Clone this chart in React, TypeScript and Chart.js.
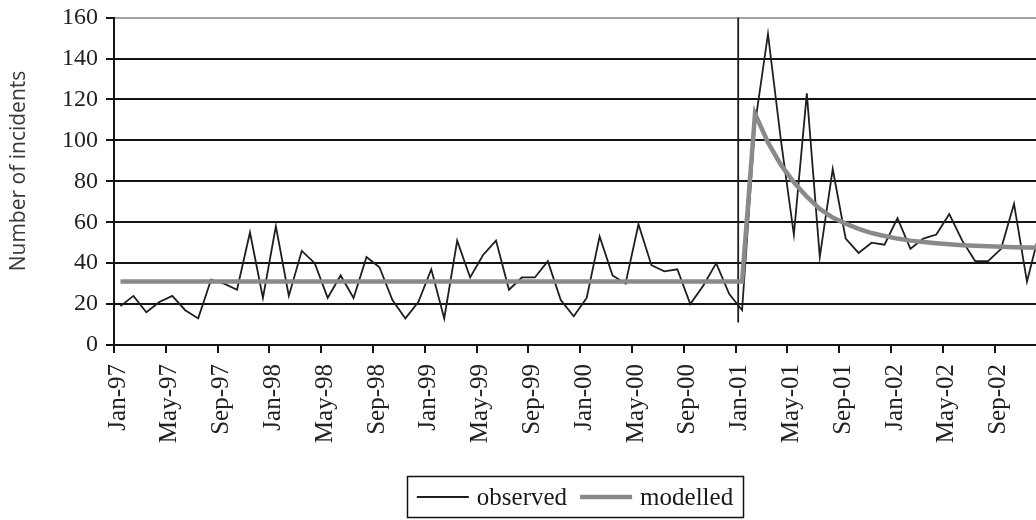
import { useEffect, useRef } from "react";
import { Chart, registerables } from "chart.js";

Chart.register(...registerables);

// Monthly incidents, Jan-97 (index 0) .. Dec-02 (index 71)
const observed = [
  19, 24, 16, 21, 24, 17, 13, 32, 30, 27, 55, 23,
  58, 24, 46, 40, 23, 34, 23, 43, 38, 22, 13, 21,
  37, 13, 51, 33, 44, 51, 27, 33, 33, 41, 22, 14,
  23, 53, 34, 30, 59, 39, 36, 37, 20, 29, 40, 25,
  17, 108, 152, 100, 54, 123, 43, 86, 52, 45, 50, 49,
  62, 47, 52, 54, 64, 51, 41, 41, 47, 69, 31, 56,
];

const modelled = [
  31, 31, 31, 31, 31, 31, 31, 31, 31, 31, 31, 31,
  31, 31, 31, 31, 31, 31, 31, 31, 31, 31, 31, 31,
  31, 31, 31, 31, 31, 31, 31, 31, 31, 31, 31, 31,
  31, 31, 31, 31, 31, 31, 31, 31, 31, 31, 31, 31,
  31, 113, 99, 88, 79.5, 72.5, 66.5, 62.3, 59.3, 56.8, 54.7, 53.3,
  52, 51, 50.3, 49.7, 49.2, 48.8, 48.5, 48.2, 48, 47.8, 47.6, 47.5,
];

// intervention marker (vertical line just before Jan-01)
const breakX = [47.7, 47.7];
const breakY = [11, 160];

const xTickLabels = [
  "Jan-97", "May-97", "Sep-97", "Jan-98", "May-98", "Sep-98",
  "Jan-99", "May-99", "Sep-99", "Jan-00", "May-00", "Sep-00",
  "Jan-01", "May-01", "Sep-01", "Jan-02", "May-02", "Sep-02",
];
const yTicks = [0, 20, 40, 60, 80, 100, 120, 140, 160];
const seriesNames = ["observed", "modelled"];
const yTitle = "Number of incidents";

const SERIF = '"Liberation Serif", "Times New Roman", serif';
const SANS = '"Open Sans", sans-serif';

const boxLegend = {
  id: "boxLegend",
  afterDraw(chart: any) {
    const ctx = chart.ctx as CanvasRenderingContext2D;
    const items = chart.data.datasets
      .filter((d: any) => d.legendIndex !== undefined)
      .sort((a: any, b: any) => a.legendIndex - b.legendIndex);
    ctx.save();
    ctx.font = `25px ${SERIF}`;
    const lineLen = 52;
    const gapText = 8;
    const gapItem = 13;
    const widths = items.map((d: any) => ctx.measureText(d.label).width);
    let total = 0;
    widths.forEach((w: number, i: number) => {
      total += lineLen + gapText + w + (i > 0 ? gapItem : 0);
    });
    const cx = 575;
    const cy = 497;
    const padX = 10;
    const h = 41;
    const left = cx - total / 2 - padX;
    ctx.strokeStyle = "#111";
    ctx.lineWidth = 1.5;
    ctx.strokeRect(Math.round(left) + 0.5, cy - h / 2, Math.round(total + padX * 2), h);
    let x = cx - total / 2;
    items.forEach((d: any, i: number) => {
      ctx.beginPath();
      ctx.strokeStyle = d.borderColor;
      ctx.lineWidth = d.borderWidth;
      ctx.moveTo(x, cy);
      ctx.lineTo(x + lineLen, cy);
      ctx.stroke();
      x += lineLen + gapText;
      ctx.fillStyle = "#1a1a1a";
      ctx.textBaseline = "middle";
      ctx.textAlign = "left";
      ctx.fillText(d.label, x, cy + 1);
      x += widths[i] + gapItem;
    });
    ctx.restore();
  },
};

const yTitlePlugin = {
  id: "yTitlePlugin",
  afterDraw(chart: any) {
    const ctx = chart.ctx as CanvasRenderingContext2D;
    ctx.save();
    ctx.translate(19, 171);
    ctx.rotate(-Math.PI / 2);
    ctx.font = `21px ${SANS}`;
    ctx.fillStyle = "#3a3a3a";
    ctx.textAlign = "center";
    ctx.textBaseline = "middle";
    ctx.fillText(yTitle, 0, 0);
    ctx.restore();
  },
};

export default function App() {
  const ref = useRef<HTMLCanvasElement>(null);

  useEffect(() => {
    if (!ref.current) return;
    const canvasW = 1060;
    const plotRight = 114 + 72 * 12.95;
    const chart = new Chart(ref.current, {
      type: "line",
      data: {
        datasets: [
          {
            label: seriesNames[0],
            data: observed.map((v, i) => ({ x: i, y: v })),
            borderColor: "#1e1e1e",
            borderWidth: 1.8,
            pointRadius: 0,
            tension: 0,
            order: 2,
            legendIndex: 0,
          } as any,
          {
            label: seriesNames[1],
            data: modelled.map((v, i) => ({ x: i, y: v })),
            borderColor: "#8a8a8a",
            borderWidth: 4.5,
            pointRadius: 0,
            tension: 0,
            order: 1,
            legendIndex: 1,
          } as any,
          {
            label: "intervention",
            data: breakX.map((x, i) => ({ x, y: breakY[i] })),
            borderColor: "#1e1e1e",
            borderWidth: 1.8,
            pointRadius: 0,
            order: 3,
          } as any,
        ],
      },
      options: {
        animation: false,
        responsive: false,
        layout: { padding: { left: 0, right: canvasW - plotRight, top: 16, bottom: 0 } },
        plugins: {
          legend: { display: false },
          tooltip: { enabled: false },
        },
        scales: {
          x: {
            type: "linear",
            min: -0.5,
            max: 71.5,
            afterBuildTicks: (s: any) => {
              s.ticks = xTickLabels.map((_, k) => ({ value: k * 4 - 0.5 }));
            },
            afterFit: (s: any) => {
              s.height = 175;
            },
            grid: {
              drawOnChartArea: false,
              drawTicks: true,
              tickLength: 8,
              tickColor: "#141414",
              lineWidth: 2,
            },
            border: { display: true, color: "#141414", width: 2 },
            ticks: {
              autoSkip: false,
              minRotation: 90,
              maxRotation: 90,
              padding: 11,
              labelOffset: 4,
              color: "#222",
              font: { family: SERIF, size: 25 },
              callback: (_v: any, idx: number) => xTickLabels[idx],
            },
          },
          y: {
            min: 0,
            max: 160,
            afterBuildTicks: (s: any) => {
              s.ticks = yTicks.map((v) => ({ value: v }));
            },
            afterFit: (s: any) => {
              s.width = 114;
            },
            grid: {
              color: (c: any) => (c.tick && c.tick.value === 160 ? "#a3a3a3" : "#141414"),
              lineWidth: 2,
              tickLength: 8,
              tickColor: "#141414",
            },
            border: { display: true, color: "#141414", width: 2 },
            ticks: {
              padding: 8,
              color: "#222",
              font: { family: SERIF, size: 24, lineHeight: 0.8 },
            },
          },
        },
      },
      plugins: [boxLegend, yTitlePlugin],
    });
    return () => chart.destroy();
  }, []);

  return (
    <div
      style={{
        position: "absolute",
        left: 0,
        top: 0,
        width: 1036,
        height: 520,
        overflow: "hidden",
        background: "#fff",
      }}
    >
      <canvas ref={ref} width={1060} height={520} style={{ display: "block", width: 1060, height: 520 }} />
    </div>
  );
}
